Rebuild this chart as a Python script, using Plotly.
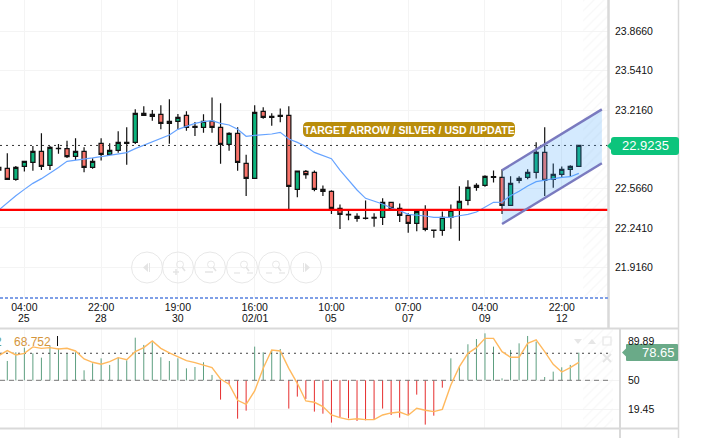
import plotly.graph_objects as go

W, H = 720, 438

# ---------- data ----------
bar_index = list(range(-1, 68))
high = [22.762,22.858,22.753,22.792,22.919,23.024,22.919,22.935,22.963,22.982,22.908,22.817,22.982,22.941,23.040,23.073,23.222,23.247,23.217,23.255,23.305,23.183,23.206,23.117,23.181,23.321,23.272,23.032,23.073,22.847,23.255,23.239,23.189,23.230,23.247,22.712,22.720,22.717,22.593,22.552,22.436,22.386,22.362,22.469,22.362,22.486,22.453,22.444,22.362,22.378,22.428,22.229,22.378,22.436,22.585,22.635,22.610,22.676,22.717,22.726,22.668,22.668,22.726,22.949,23.073,22.775,22.750,22.759,22.924]
low = [22.712,22.638,22.632,22.707,22.715,22.720,22.720,22.855,22.820,22.803,22.701,22.731,22.798,22.850,22.864,22.764,22.935,23.170,23.128,23.057,22.938,23.057,23.046,23.002,23.029,23.029,22.773,22.880,22.715,22.505,22.651,23.145,23.087,23.115,22.395,22.494,22.649,22.544,22.505,22.356,22.232,22.304,22.293,22.312,22.251,22.265,22.403,22.290,22.202,22.213,22.213,22.160,22.177,22.235,22.136,22.428,22.549,22.582,22.618,22.356,22.428,22.610,22.643,22.651,22.505,22.574,22.659,22.668,22.750]
opens = [22.742,22.734,22.643,22.751,22.784,22.875,22.759,22.900,22.897,22.833,22.875,22.742,22.941,22.850,22.883,22.949,22.949,23.189,23.164,23.181,23.106,23.123,23.172,23.081,23.073,23.123,23.073,22.933,23.024,22.775,22.651,23.206,23.164,23.172,23.172,22.560,22.709,22.701,22.560,22.544,22.403,22.353,22.337,22.323,22.329,22.329,22.453,22.403,22.345,22.279,22.386,22.224,22.221,22.329,22.395,22.469,22.577,22.593,22.665,22.659,22.428,22.635,22.659,22.701,22.866,22.643,22.684,22.726,22.750]
closes = [22.720,22.643,22.742,22.792,22.875,22.751,22.908,22.897,22.831,22.875,22.742,22.792,22.850,22.883,22.949,22.941,23.189,23.172,23.181,23.106,23.123,23.156,23.073,23.073,23.123,23.073,22.933,23.024,22.784,22.651,23.197,23.156,23.156,23.164,22.585,22.712,22.682,22.560,22.544,22.403,22.353,22.348,22.320,22.320,22.323,22.453,22.403,22.345,22.279,22.378,22.229,22.221,22.329,22.386,22.461,22.577,22.593,22.668,22.659,22.428,22.610,22.651,22.701,22.866,22.635,22.684,22.726,22.750,22.924]
ma_line = [22.390,22.450,22.508,22.560,22.610,22.649,22.693,22.742,22.792,22.800,22.811,22.820,22.831,22.842,22.850,22.864,22.897,22.924,22.955,22.977,23.010,23.057,23.084,23.106,23.120,23.128,23.106,23.093,23.057,22.999,23.007,23.010,23.018,23.032,22.977,22.949,22.915,22.866,22.841,22.814,22.720,22.637,22.555,22.486,22.461,22.439,22.406,22.384,22.353,22.348,22.340,22.329,22.326,22.329,22.342,22.353,22.373,22.411,22.453,22.455,22.508,22.544,22.588,22.624,22.637,22.646,22.659,22.665,22.692]

osc_index = list(range(0, 68))
osc_stems = [70.5,79.7,84.6,78.6,74.0,86.8,83.9,78.6,79.7,60.6,68.0,73.3,66.3,74.0,71.2,95.2,87.5,90.3,74.4,70.5,73.3,62.7,64.1,69.1,55.7,29.5,46.1,9.3,17.8,85.7,79.7,82.2,83.2,20.0,32.7,30.2,16.8,14.6,5.1,10.8,9.7,6.9,7.6,7.9,20.0,13.2,10.4,13.2,34.8,3.0,12.5,42.2,73.3,64.5,88.2,93.8,99.8,85.7,52.1,82.2,89.2,97.0,91.0,53.5,59.2,63.8,66.3,79.3]
osc_line = [76.2,81.5,76.9,78.6,85.4,83.9,84.6,83.2,83.9,81.1,72.6,69.1,67.0,69.8,74.0,71.9,80.4,84.6,91.7,83.9,79.0,74.7,70.9,68.7,66.3,63.4,51.4,45.8,28.8,24.5,38.7,62.7,82.2,81.1,62.7,46.8,28.1,26.7,22.1,13.2,10.4,8.3,9.3,8.3,8.3,13.2,15.4,16.4,12.9,20.3,18.2,16.8,19.2,45.1,64.5,78.6,84.6,94.5,94.5,80.4,74.4,74.4,89.2,92.8,80.4,67.0,58.8,63.4,69.1]

current_price = 22.9235
support_level = 22.39
osc_current = 78.65
osc_mid = 50
channel_x = [58, 69.7]
channel_upper = [22.718, 23.222]
channel_lower = [22.274, 22.776]
future_zone_x = [67.5, 70.42]

price_ticks = [23.866, 23.541, 23.216, 22.566, 22.241, 21.916]
price_tick_text = ["23.8660", "23.5410", "23.2160", "22.5660", "22.2410", "21.9160"]
osc_ticks = [50, 19.45]
osc_tick_text = ["50", "19.45"]
osc_top_label = "89.89"
time_ticks = [2, 11, 20, 29, 38, 47, 56, 65]
time_labels = ["04:00", "22:00", "19:00", "16:00", "10:00", "07:00", "04:00", "22:00"]
day_labels = ["25", "28", "30", "02/01", "05", "07", "09", "12"]

# axis ranges
x_main = [-0.856, 70.42]
x_osc = [-0.856, 71.83]
y_main = [21.6617, 24.1265]
y_osc = [-0.58, 104.4]

FONT = "Liberation Sans"
GRID = "#f4f4f4"
px = lambda v: v / W
py = lambda v: 1 - v / H


def seg(x0, y0, x1, y1, color, width=1, dash=None, layer="above"):
    return dict(type="line", xref="paper", yref="paper", x0=px(x0), y0=py(y0), x1=px(x1), y1=py(y1),
                line=dict(color=color, width=width, dash=dash), layer=layer)


def rounded(x0, y0, x1, y1, r, color, arrow=False):
    mid = (y0 + y1) / 2
    pts = [f"M{px(x0 + r)},{py(y0)}", f"L{px(x1 - r)},{py(y0)}",
           f"Q{px(x1)},{py(y0)} {px(x1)},{py(y0 + r)}", f"L{px(x1)},{py(y1 - r)}",
           f"Q{px(x1)},{py(y1)} {px(x1 - r)},{py(y1)}", f"L{px(x0 + r)},{py(y1)}",
           f"Q{px(x0)},{py(y1)} {px(x0)},{py(y1 - r)}"]
    if arrow:
        pts += [f"L{px(x0)},{py(mid + 4)}", f"L{px(x0 - 4)},{py(mid)}", f"L{px(x0)},{py(mid - 4)}"]
    pts += [f"L{px(x0)},{py(y0 + r)}", f"Q{px(x0)},{py(y0)} {px(x0 + r)},{py(y0)}", "Z"]
    return dict(type="path", xref="paper", yref="paper", path=" ".join(pts),
                fillcolor=color, line=dict(width=0), layer="above")


def circle(cx, cy, r, color="#e8e8e8", fill=None, width=1):
    return dict(type="circle", xref="paper", yref="paper", x0=px(cx - r), x1=px(cx + r),
                y0=py(cy + r), y1=py(cy - r), line=dict(color=color, width=width),
                fillcolor=fill or "rgba(0,0,0,0)", layer="above")


def poly(points, color):
    d = "M" + " L".join(f"{px(a)},{py(b)}" for a, b in points) + " Z"
    return dict(type="path", xref="paper", yref="paper", path=d, fillcolor=color,
                line=dict(width=0), layer="above")


def label(text, x, y, color, size=12, xanchor="center", xref="paper"):
    return dict(text=text, x=x, y=py(y), xref=xref, yref="paper", xanchor=xanchor, yanchor="middle",
                showarrow=False, font=dict(family=FONT, size=size, color=color))


def stems(keep, color):
    xs, ys = [], []
    for i, v in zip(osc_index, osc_stems):
        if keep(v):
            xs += [i, i, None]
            ys += [osc_mid, v, None]
    return go.Scatter(x=xs, y=ys, mode="lines", line=dict(color=color, width=1), xaxis="x2", yaxis="y2",
                      hoverinfo="skip")


fig = go.Figure()

# hatched future zones
hatch = dict(shape="/", fgcolor="#f1f1f1", bgcolor="rgba(255,255,255,0)", size=7, solidity=0.2)
fig.add_trace(go.Scatter(x=[future_zone_x[0], future_zone_x[1], future_zone_x[1], future_zone_x[0]],
                         y=[y_main[0], y_main[0], y_main[1], y_main[1]], mode="none", fill="toself",
                         fillcolor="rgba(0,0,0,0)", fillpattern=hatch,
                         xaxis="x", yaxis="y", hoverinfo="skip"))
fig.add_trace(go.Scatter(x=[67.5, 71.0, 71.0, 67.5], y=[y_osc[0], y_osc[0], y_osc[1], y_osc[1]], mode="none",
                         fill="toself", fillcolor="rgba(0,0,0,0)", fillpattern=hatch,
                         xaxis="x2", yaxis="y2", hoverinfo="skip"))

fig.add_trace(go.Candlestick(x=bar_index, open=opens, high=high, low=low, close=closes,
                             increasing=dict(fillcolor="#0bb37c", line=dict(color="#111111", width=1.2)),
                             decreasing=dict(fillcolor="#f9736a", line=dict(color="#111111", width=1.2)),
                             xaxis="x", yaxis="y", hoverinfo="skip"))
fig.add_trace(go.Scatter(x=bar_index, y=ma_line, mode="lines", line=dict(color="#66a3ff", width=1.2),
                         xaxis="x", yaxis="y", hoverinfo="skip"))
fig.add_trace(go.Scatter(x=x_main, y=[current_price, current_price], mode="lines",
                         line=dict(color="#333333", width=1, dash="2px,4px"), xaxis="x", yaxis="y", hoverinfo="skip"))
fig.add_trace(go.Scatter(x=x_main, y=[support_level, support_level], mode="lines",
                         line=dict(color="#ff0000", width=2.2), xaxis="x", yaxis="y", hoverinfo="skip"))
# channel
fig.add_trace(go.Scatter(x=channel_x + channel_x[::-1], y=channel_upper + channel_lower[::-1], mode="none",
                         fill="toself", fillcolor="rgba(60,160,250,0.22)", xaxis="x", yaxis="y", hoverinfo="skip"))
for edge in (channel_upper, channel_lower):
    fig.add_trace(go.Scatter(x=channel_x, y=edge, mode="lines", line=dict(color="#7a7abf", width=2.5),
                             xaxis="x", yaxis="y", hoverinfo="skip"))

# oscillator
fig.add_trace(stems(lambda v: v >= osc_mid, "#5d9f80"))
fig.add_trace(stems(lambda v: v < osc_mid, "#e62e2e"))
fig.add_trace(go.Scatter(x=[-0.856, 70.6], y=[osc_mid, osc_mid], mode="lines",
                         line=dict(color="#777777", width=1, dash="5px,4px"), xaxis="x2", yaxis="y2", hoverinfo="skip"))
fig.add_trace(go.Scatter(x=[-0.856, 70.6], y=[osc_current, osc_current], mode="lines",
                         line=dict(color="#444444", width=1, dash="2px,4px"), xaxis="x2", yaxis="y2", hoverinfo="skip"))
fig.add_trace(go.Scatter(x=bar_index, y=osc_line, mode="lines", line=dict(color="#ffb95e", width=1.4),
                         xaxis="x2", yaxis="y2", hoverinfo="skip"))

shapes = [
    # frame
    seg(608.5, 0, 608.5, 328, "#d9d9d9", 2.5),
    seg(620, 328, 620, 438, "#d9d9d9", 2),
    seg(678.5, 0, 678.5, 438, "#d9d9d9", 1.5),
    seg(0, 328.5, 678, 328.5, "#d9d9d9", 2),
    seg(0, 428.5, 678, 428.5, "#d9d9d9", 2),
    seg(0, 298, 608, 298, "#7f9fe6", 2, "3px,2px"),
    # badges
    rounded(303, 122, 515, 137, 5, "#b98d0b"),
    rounded(611, 137, 679, 155, 3, "#0cc47c", arrow=True),
    rounded(626, 344, 678, 361, 1, "#6aaa88", arrow=True),
]
# navigation bubbles
for cx in [147, 178, 210, 242, 274, 306]:
    shapes.append(circle(cx, 267.5, 15.5))
shapes += [poly([(143, 267.5), (148, 263), (148, 272)], "#e4e4e4"),
           seg(149.5, 263, 149.5, 272, "#e4e4e4", 1),
           poly([(310, 267.5), (305, 263), (305, 272)], "#e4e4e4"),
           seg(303.5, 263, 303.5, 272, "#e4e4e4", 1)]
for cx, kind in [(179, "plus"), (210, "minus"), (243, "out"), (275, "in")]:
    shapes.append(circle(cx + 1, 264.5, 3.5))
    shapes.append(seg(cx + 3, 267, cx + 6, 271, "#e4e4e4", 1.5))
    if kind == "plus":
        shapes += [seg(cx - 6, 272, cx, 272, "#e4e4e4", 1.5), seg(cx - 3, 269, cx - 3, 275, "#e4e4e4", 1.5)]
    elif kind == "minus":
        shapes.append(seg(cx - 5, 272, cx + 3, 272, "#e4e4e4", 1.5))
    else:
        shapes += [seg(cx - 9, 273, cx - 3, 273, "#e4e4e4", 1.2), seg(cx + 4, 273, cx + 10, 273, "#e4e4e4", 1.2)]
# oscillator corner icons
shapes += [poly([(574, 339), (582, 339), (578, 344)], "#e6e6e6"),
           poly([(588, 344), (596, 344), (592, 339)], "#e6e6e6"),
           dict(type="rect", xref="paper", yref="paper", x0=px(603), x1=px(611), y0=py(345), y1=py(337),
                line=dict(color="#e6e6e6", width=1.2), layer="above"),
           seg(603, 354, 611, 362, "#e6e6e6", 2), seg(611, 354, 603, 362, "#e6e6e6", 2),
           seg(57.5, 336, 57.5, 346, "#111111", 1)]

annotations = [
    label("<b>TARGET ARROW / SILVER / USD /UPDATE</b>", px(409), 129.8, "#ffffff", 10.5),
    label("22.9235", px(645), 146, "#ffffff", 13),
    label("78.65", px(658), 352.5, "#ffffff", 13),
    label("68.752", px(11.5), 341.5, "#d4953c", 12, "left"),
    label("2", px(3.5), 341.5, "#5f9f80", 12, "right"),
    label(osc_top_label, px(625.5), 340.7, "#111111", 10.5, "left"),
]
for t, d in zip(time_ticks, day_labels):
    annotations.append(label(d, t, 318, "#111111", 10.5, xref="x"))

fig.update_layout(
    width=W, height=H, margin=dict(l=0, r=0, t=0, b=0), showlegend=False, paper_bgcolor="#ffffff",
    plot_bgcolor="#ffffff", hovermode=False,
    xaxis=dict(domain=[0, 608 / W], range=x_main, tickmode="array", tickvals=time_ticks, ticktext=time_labels,
               showgrid=True, gridcolor=GRID, zeroline=False, showline=False, ticks="", ticklabelstandoff=1,
               tickfont=dict(family=FONT, size=10.5, color="#111111"), rangeslider=dict(visible=False), anchor="y",
               fixedrange=True),
    yaxis=dict(domain=[1 - 298 / H, 1], range=y_main, tickmode="array", tickvals=price_ticks, ticktext=price_tick_text,
               side="right", showgrid=True, gridcolor=GRID, zeroline=False, showline=False, ticks="",
               ticklabelstandoff=6, tickfont=dict(family=FONT, size=10.5, color="#111111"), anchor="x", fixedrange=True),
    xaxis2=dict(domain=[0, 620 / W], range=x_osc, tickmode="array", tickvals=time_ticks, showticklabels=False,
                showgrid=True, gridcolor=GRID, zeroline=False, showline=False, ticks="", anchor="y2", fixedrange=True),
    yaxis2=dict(domain=[1 - 428 / H, 1 - 329 / H], range=y_osc, tickmode="array", tickvals=osc_ticks, ticktext=osc_tick_text,
                side="right", showgrid=True, gridcolor=GRID, zeroline=False, showline=False, ticks="",
                ticklabelstandoff=7, tickfont=dict(family=FONT, size=10.5, color="#111111"), anchor="x2", fixedrange=True),
    shapes=shapes, annotations=annotations,
)

assert all(len(a) == len(bar_index) for a in (high, low, opens, closes, ma_line, osc_line))
assert len(osc_stems) == len(osc_index)

fig.write_html("out.html", config=dict(displayModeBar=False),
               post_script="document.body.style.margin='0';document.body.style.overflow='hidden';")
